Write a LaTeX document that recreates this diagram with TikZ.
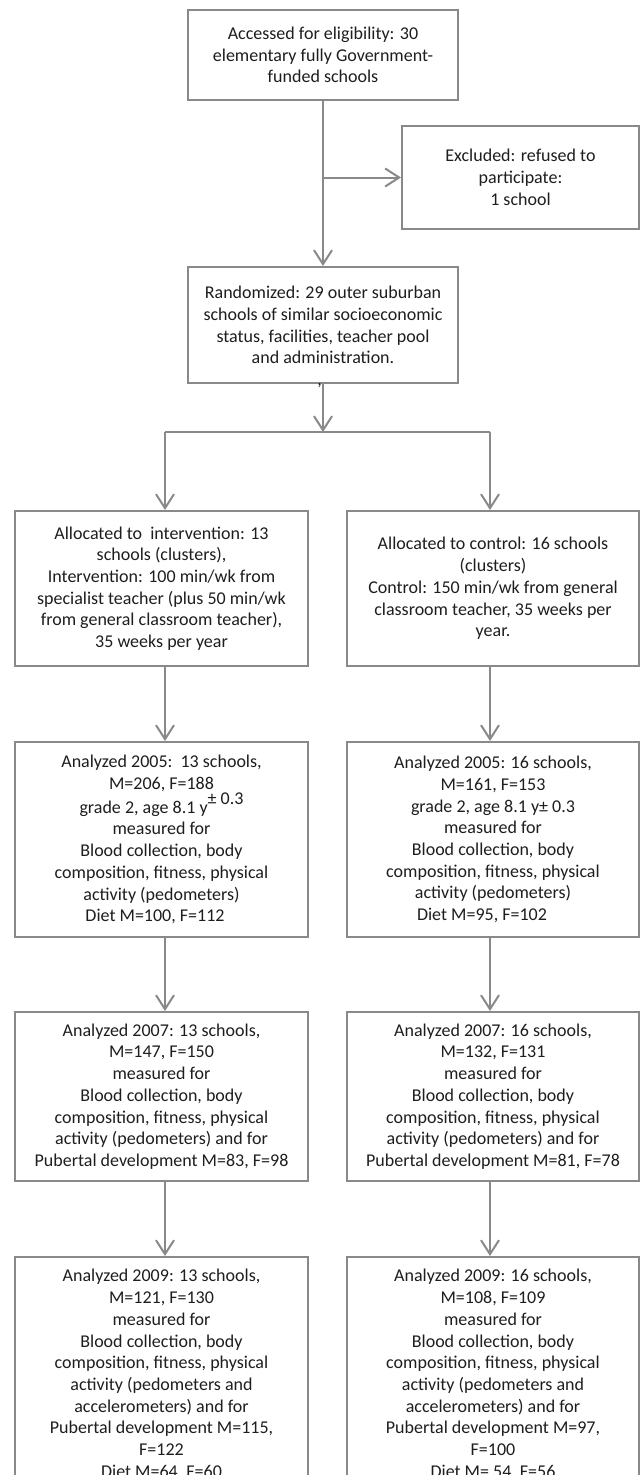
\documentclass[tikz,border=0pt]{standalone}
\usepackage{fontspec}
\setmainfont{Carlito}
\usetikzlibrary{arrows.meta}
\definecolor{linegray}{RGB}{137,137,137}
\definecolor{txt}{RGB}{30,30,30}
\begin{document}
\begin{tikzpicture}[x=1pt,y=-1pt,
  box/.style={draw=linegray, line width=2pt, inner sep=0pt, align=center,
    text=txt, font=\fontsize{18}{21.7}\selectfont},
  conn/.style={draw=linegray, line width=2pt},
  arr/.style={conn, -{Straight Barb[length=14pt,width=18pt,line width=2pt]}}]
\clip (0,0) rectangle (640,1475);
\fill[white] (0,0) rectangle (640,1475);
% boxes
\node[box, minimum width=270, minimum height=90] (b1) at (323,55)
  {Accessed for eligibility: 30\\elementary fully Government-\\funded schools};
\node[box, minimum width=237, minimum height=103] (ex) at (520.5,177.5)
  {Excluded: refused to\\participate:\\1 school};
\node[box, minimum width=270, minimum height=116] (rnd) at (323,325)
  {Randomized: 29 outer suburban\\schools of similar socioeconomic\\status, facilities, teacher pool\\and administration.};
\node[box, minimum width=293, minimum height=155] (alI) at (161.5,588.5)
  {Allocated to~~intervention: 13\\schools (clusters),\\Intervention: 100 min/wk from\\specialist teacher (plus 50 min/wk\\from general classroom teacher),\\35 weeks per year};
\node[box, minimum width=292, minimum height=155] (alC) at (493,588.5)
  {Allocated to control: 16 schools\\(clusters)\\Control: 150 min/wk from general\\classroom teacher, 35 weeks per\\year.};
\node[box, minimum width=293, minimum height=195] (aI5) at (161.5,839.5)
  {Analyzed 2005:~~13 schools,\\M=206, F=188\\grade 2, age 8.1 y\raisebox{9pt}{± 0.3}\\measured for\\Blood collection, body\\composition, fitness, physical\\activity (pedometers)\\Diet M=100, F=112\hspace*{13pt}};
\node[box, minimum width=292, minimum height=195] (aC5) at (493,839.5)
  {Analyzed 2005: 16 schools,\\M=161, F=153\\grade 2, age 8.1 y± 0.3\\measured for\\Blood collection, body\\composition, fitness, physical\\activity (pedometers)\\Diet M=95, F=102\hspace*{22pt}};
\node[box, minimum width=293, minimum height=169] (aI7) at (161.5,1096.5)
  {Analyzed 2007: 13 schools,\\M=147, F=150\\measured for\\Blood collection, body\\composition, fitness, physical\\activity (pedometers) and for\\Pubertal development M=83, F=98};
\node[box, minimum width=292, minimum height=169] (aC7) at (493,1096.5)
  {Analyzed 2007: 16 schools,\\M=132, F=131\\measured for\\Blood collection, body\\composition, fitness, physical\\activity (pedometers) and for\\Pubertal development M=81, F=78};
\node[box, minimum width=293, minimum height=235] (aI9) at (161.5,1374.5)
  {Analyzed 2009: 13 schools,\\M=121, F=130\\measured for\\Blood collection, body\\composition, fitness, physical\\activity (pedometers and\\accelerometers) and for\\Pubertal development M=115,\\F=122\\Diet M=64, F=60};
\node[box, minimum width=292, minimum height=235] (aC9) at (493,1374.5)
  {Analyzed 2009: 16 schools,\\M=108, F=109\\measured for\\Blood collection, body\\composition, fitness, physical\\activity (pedometers and\\accelerometers) and for\\Pubertal development M=97,\\F=100\\Diet M= 54, F=56};
% stray comma
\node[anchor=base, inner sep=0pt, text=txt, font=\fontsize{18}{21.7}\selectfont] (cm) at (319.5,385) {,};
% connectors
\draw[arr] (b1.south) -- (rnd.north);
\draw[arr] (b1.south |- ex.west) -- (ex.west);
\coordinate (sp) at (323,432);
\coordinate (L) at (165,432);
\coordinate (R) at (490,432);
\draw[arr] (rnd.south) -- (sp);
\draw[conn] (L) -- (R);
\draw[arr] (L) -- (L |- alI.north);
\draw[arr] (R) -- (R |- alC.north);
\draw[arr] (L |- alI.south) -- (L |- aI5.north);
\draw[arr] (R |- alC.south) -- (R |- aC5.north);
\draw[arr] (L |- aI5.south) -- (L |- aI7.north);
\draw[arr] (R |- aC5.south) -- (R |- aC7.north);
\draw[arr] (L |- aI7.south) -- (L |- aI9.north);
\draw[arr] (R |- aC7.south) -- (R |- aC9.north);
\end{tikzpicture}
\end{document}
